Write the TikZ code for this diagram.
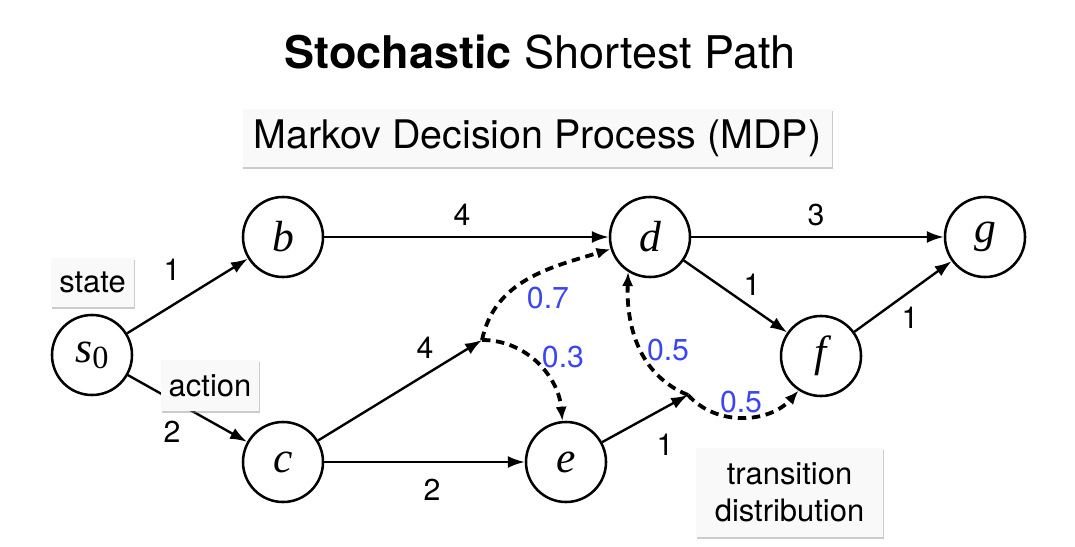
\documentclass[tikz,border=0pt]{standalone}
\usepackage{fontspec}
\setmainfont{TeX Gyre Heros}
\newfontfamily\statefont{Liberation Serif}
\usetikzlibrary{arrows.meta,shadows}
\definecolor{probblue}{RGB}{60,70,240}
\definecolor{tagfill}{RGB}{249,249,249}

\tikzset{
  state/.style={circle, draw, line width=1.8pt, minimum size=2cm, inner sep=0pt,
    font=\statefont\itshape\fontsize{31}{31}\selectfont},
  edge/.style={line width=1.7pt, -{Latex[length=12pt,width=8.5pt]}},
  chance/.style={line width=2.7pt, dash pattern=on 6pt off 4pt,
    -{Latex[length=10pt,width=8pt]}},
  cost/.style={font=\fontsize{21.5}{21.5}\selectfont, inner sep=0pt},
  prob/.style={cost, text=probblue},
  tag/.style={fill=tagfill, inner sep=0pt, font=\fontsize{22}{26}\selectfont,
    drop shadow={shadow xshift=0.4pt, shadow yshift=-1.2pt, fill=black!45, opacity=0.45}},
}

\begin{document}
\begin{tikzpicture}[x=0.025cm, y=0.025cm]
    \useasboundingbox (0,0) rectangle (1075,546);

    \node (title) at (540,494) {\fontsize{32}{32}\selectfont\bfseries Stochastic \mdseries Shortest Path};

    % states
    \node [state] (s0) at (92,191) {s\raisebox{-0.3ex}{\upshape\fontsize{23}{23}\selectfont 0}};
    \node [state] (b) at (283,309) {b};
    \node [state] (c) at (283,84) {c};
    \node [state] (d) at (650,309) {d};
    \node [state] (e) at (566,84) {e};
    \node [state] (f) at (821,190) {f};
    \node [state] (g) at (985,309) {g};

    % chance points
    \coordinate (m1) at (482,206);
    \coordinate (m2) at (688,151);

    \draw [edge] (s0) -- (b);
    \draw [edge] (s0) -- (c);
    \draw [edge] (b) -- (d);
    \draw [edge] (d) -- (g);
    \draw [edge] (d) -- (f);
    \draw [edge] (f) -- (g);
    \draw [edge] (c) -- (m1);
    \draw [edge] (c) -- (e);
    \draw [edge] (e) -- (m2);

    \draw [chance] (m1) to[out=78, in=197] (d);
    \draw [chance] (m1) to[out=0, in=95] (e);
    \draw [chance] (m2) to[out=158, in=268] (d.238);
    \draw [chance] (m2) to[out=-48, in=228] (f.237);

    % costs
    \node [cost] (w1) at (172,276) {1};
    \node [cost] (w2) at (172,114) {2};
    \node [cost] (w3) at (462,331) {4};
    \node [cost] (w4) at (816,331) {3};
    \node [cost] (w5) at (752,261) {1};
    \node [cost] (w6) at (910,228) {1};
    \node [cost] (w7) at (425,198) {4};
    \node [cost] (w8) at (432,56) {2};
    \node [cost] (w9) at (665,101) {1};

    % probabilities
    \node [prob] (p1) at (548,248) {0.7};
    \node [prob] (p2) at (563,189) {0.3};
    \node [prob] (p3) at (668,196) {0.5};
    \node [prob] (p4) at (741,144) {0.5};

    % tags
    \node [tag, minimum width=14.725cm, minimum height=1.45cm, font=\fontsize{28}{28}\selectfont]
      (mdp) at (537.5,408) {Markov Decision Process (MDP)};
    \node [tag, minimum width=2.075cm, minimum height=1.225cm] (statetag) at (92.5,263.5) {state};
    \node [tag, minimum width=2.45cm, minimum height=1.275cm] (actiontag) at (210,160.5) {action};
    \node [tag, minimum width=4.675cm, minimum height=2.225cm, align=center]
      (transtag) at (789.5,53.5) {transition\\distribution};
\end{tikzpicture}
\end{document}
